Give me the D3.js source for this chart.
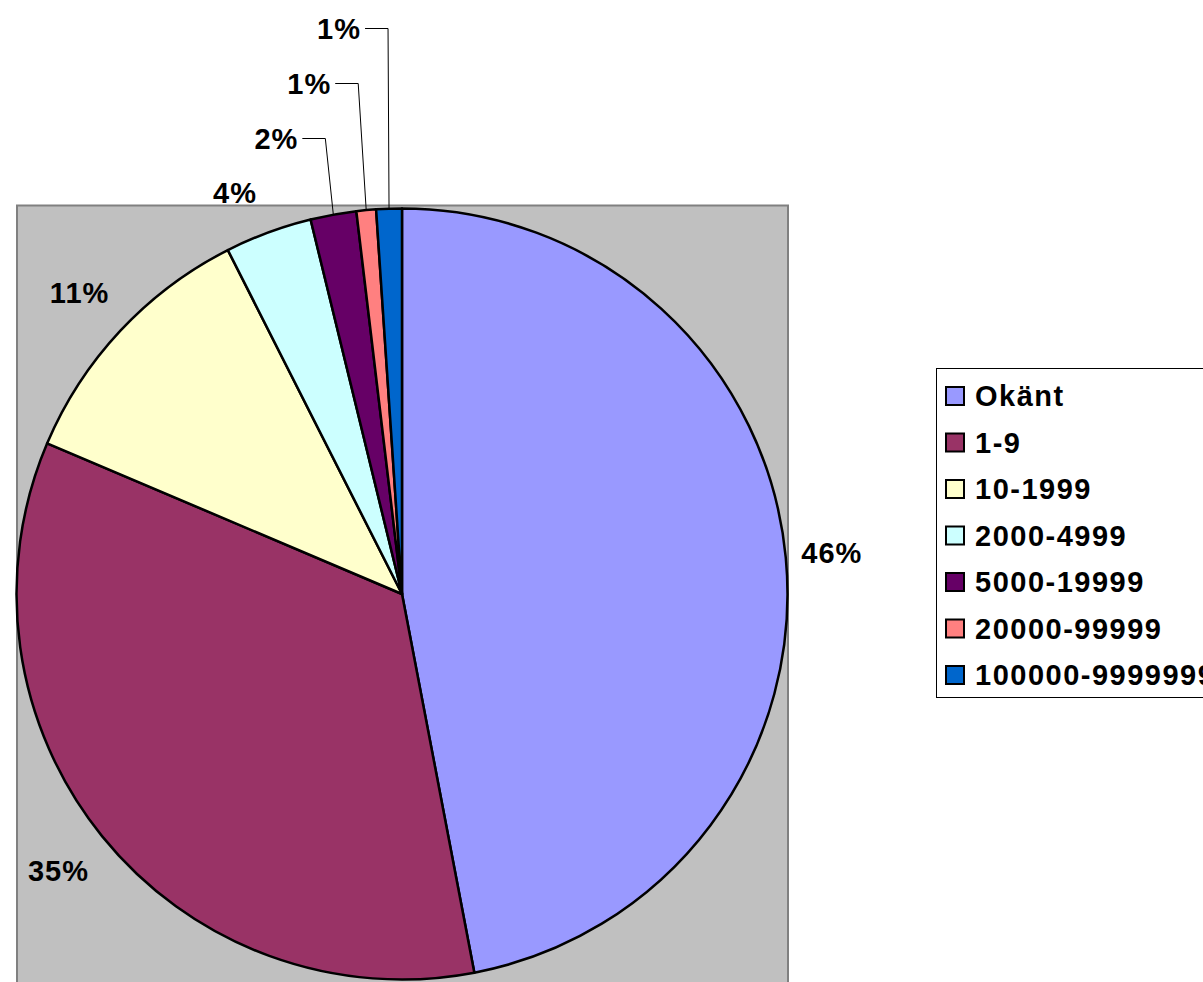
<!DOCTYPE html>
<html>
<head>
<meta charset="utf-8">
<script src="https://cdn.jsdelivr.net/npm/d3@7"></script>
<style>
  html, body { margin: 0; padding: 0; background: #fff; overflow: hidden; }
  svg { display: block; }
  text { font-family: Arial, "Liberation Sans", sans-serif; font-weight: bold; fill: #000; }
</style>
</head>
<body>
<svg id="chart" width="1203" height="982"></svg>
<script>
// ---- data ----
const categories = ["Okänt", "1-9", "10-1999", "2000-4999", "5000-19999", "20000-99999", "100000-9999999"];
const shares = [47.0, 34.4, 11.15, 3.65, 1.92, 0.82, 1.07];   // slice sizes (percent)
const labelTexts = ["46%", "35%", "11%", "4%", "2%", "1%", "1%"];
const colors = ["#9999FF", "#993366", "#FFFFCC", "#CCFFFF", "#660066", "#FF8080", "#0066CC"];

// ---- layout ----
const svg = d3.select("#chart");
const cx = 402, cy = 594, r = 385.5;
const plot = { x: 17, y: 205.5, w: 771, h: 820 };
const fontSize = 29;

// plot area
svg.append("rect")
  .attr("x", plot.x).attr("y", plot.y).attr("width", plot.w).attr("height", plot.h)
  .attr("fill", "#C0C0C0").attr("stroke", "#808080").attr("stroke-width", 2);

const pie = d3.pie().sort(null).value(d => d)(shares);
const arc = d3.arc().innerRadius(0).outerRadius(r);

const g = svg.append("g").attr("transform", `translate(${cx},${cy})`);
g.selectAll("path.slice").data(pie).enter().append("path")
  .attr("class", "slice")
  .attr("d", arc)
  .attr("fill", (d, i) => colors[i])
  .attr("stroke", "#000").attr("stroke-width", 2.5).attr("stroke-linejoin", "round");

// labels
const radiusFactor = [1.12, 1.145, 1.145, 1.13];
const pieTop = cy - r;
pie.forEach((d, i) => {
  const mid = (d.startAngle + d.endAngle) / 2;
  const sx = Math.sin(mid), sy = -Math.cos(mid);
  if (i < 4) {
    const R = r * radiusFactor[i];
    let x = cx + R * sx, y = cy + R * sy;
    if (i === 3) { x -= 16; y += 8; }
    svg.append("text")
      .attr("x", x).attr("y", y + 10)
      .attr("text-anchor", "middle")
      .attr("font-size", fontSize)
      .style("letter-spacing", "1px")
      .text(labelTexts[i]);
  } else {
    const ex = cx + r * sx, ey = cy + r * sy;
    const ly = pieTop - 70 - (i - 4) * 55;
    const bx = (i === 6) ? ex - 1 : ex - 8;
    const tr = bx - 27;
    svg.append("polyline")
      .attr("points", `${tr + 4},${ly} ${bx},${ly} ${ex},${ey}`)
      .attr("fill", "none").attr("stroke", "#000").attr("stroke-width", 1);
    svg.append("text")
      .attr("x", tr).attr("y", ly + 10)
      .attr("text-anchor", "end")
      .attr("font-size", fontSize)
      .style("letter-spacing", "1px")
      .text(labelTexts[i]);
  }
});

// legend
const leg = { x: 936.5, y: 368.5, w: 320, h: 329 };
svg.append("rect")
  .attr("x", leg.x).attr("y", leg.y).attr("width", leg.w).attr("height", leg.h)
  .attr("fill", "#fff").attr("stroke", "#000").attr("stroke-width", 1);

const rowY = d3.scalePoint().domain(categories).range([396, 675]);
const items = svg.selectAll("g.item").data(categories).enter().append("g").attr("class", "item");
items.append("rect")
  .attr("x", 946).attr("y", d => rowY(d) - 9)
  .attr("width", 18).attr("height", 18)
  .attr("fill", (d, i) => colors[i])
  .attr("stroke", "#000").attr("stroke-width", 2);
items.append("text")
  .attr("x", 975).attr("y", d => rowY(d) + 10)
  .attr("font-size", fontSize)
  .style("letter-spacing", "1.5px")
  .text(d => d);
</script>
</body>
</html>
